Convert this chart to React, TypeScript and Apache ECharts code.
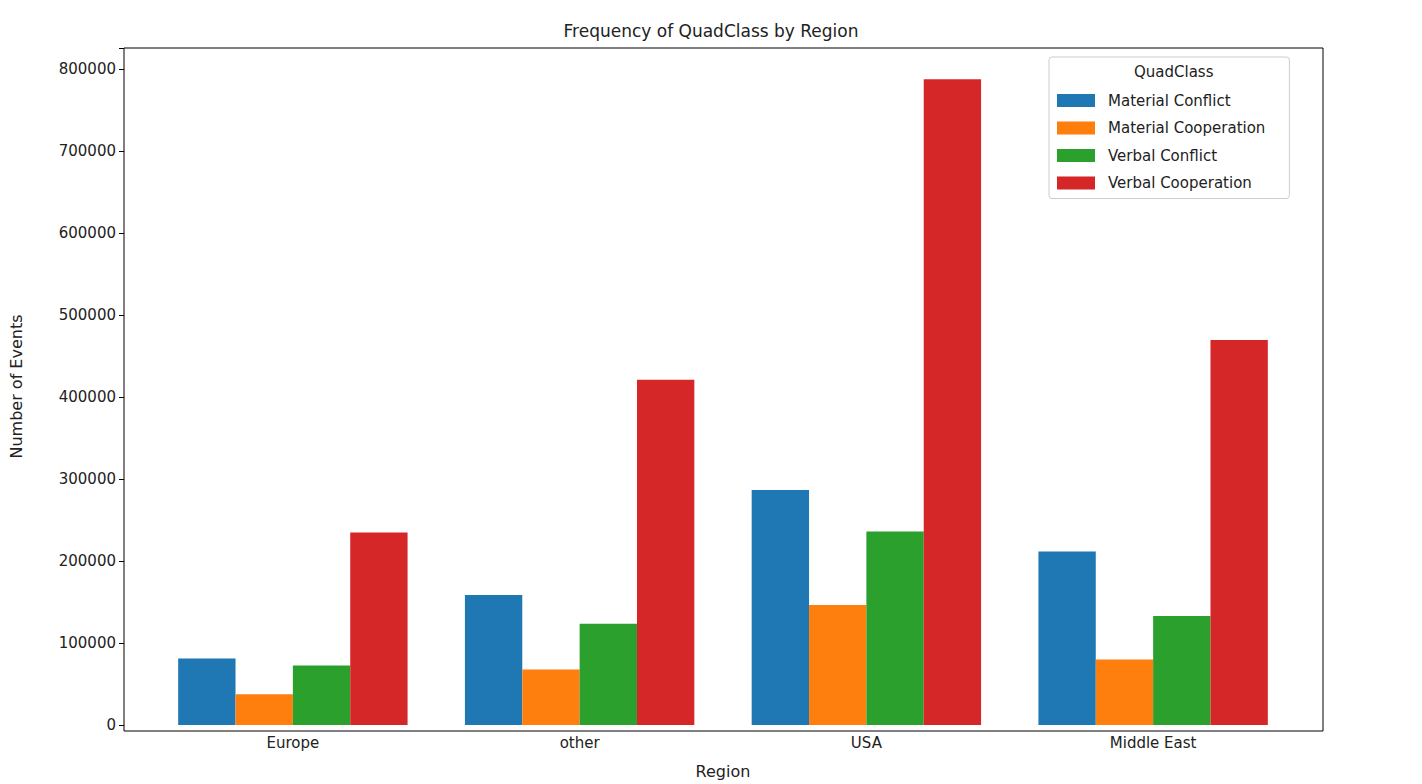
import { useEffect, useRef } from 'react'
import * as echarts from 'echarts'

const regions = ['Europe', 'other', 'USA', 'Middle East']
const quadClasses = ['Material Conflict', 'Material Cooperation', 'Verbal Conflict', 'Verbal Cooperation']
const colors = ['#1f77b4', '#ff7f0e', '#2ca02c', '#d62728']
const materialConflict = [81000, 158500, 286800, 211800]
const materialCooperation = [37500, 67800, 146400, 79900]
const verbalConflict = [72600, 123400, 236000, 133100]
const verbalCooperation = [234800, 421200, 787900, 469600]
const values = [materialConflict, materialCooperation, verbalConflict, verbalCooperation]

export default function App() {
  const ref = useRef<HTMLDivElement>(null)

  useEffect(() => {
    document.body.style.margin = '0'
    if (!ref.current) return
    const chart = echarts.init(ref.current, null, { renderer: 'svg' })
    const font = 'DejaVu Sans'
    chart.setOption({
      animation: false,
      textStyle: { fontFamily: font },
      title: {
        text: 'Frequency of QuadClass by Region',
        left: 'center',
        top: 17,
        textStyle: { fontSize: 17, fontWeight: 'normal', color: '#222', fontFamily: font },
      },
      grid: [
        { left: 149.5, right: 125.5, top: 48, bottom: 53 },
        { left: 124, right: 99, top: 48, bottom: 53, show: true, borderColor: '#000', borderWidth: 1 },
      ],
      legend: {
        orient: 'vertical',
        left: 1049,
        top: 57,
        padding: [36, 24, 8, 8],
        itemGap: 12.5,
        itemWidth: 38,
        itemHeight: 13,
        borderColor: '#ccc',
        borderWidth: 1,
        borderRadius: 3,
        icon: 'rect',
        textStyle: { fontSize: 15, color: '#222', fontFamily: font, padding: [0, 0, 0, 8] },
        data: quadClasses,
      },
      graphic: [
        {
          type: 'text',
          left: 1134,
          top: 64,
          style: { text: 'QuadClass', fontSize: 15, fill: '#222', fontFamily: font },
        },
      ],
      xAxis: [
        {
          type: 'category',
          gridIndex: 0,
          data: regions,
          name: 'Region',
          nameLocation: 'middle',
          nameGap: 38,
          nameTextStyle: { fontSize: 16, color: '#222' },
          axisLine: { show: false },
          axisTick: { alignWithLabel: true, lineStyle: { color: '#000' } },
          axisLabel: { fontSize: 15, color: '#222', margin: 10 },
          splitLine: { show: false },
        },
        { type: 'value', gridIndex: 1, show: false },
      ],
      yAxis: [
        {
          type: 'value',
          gridIndex: 0,
          min: 0,
          max: 826000,
          interval: 100000,
          offset: 25.5,
          name: 'Number of Events',
          nameLocation: 'middle',
          nameGap: 100,
          nameTextStyle: { fontSize: 16, color: '#222' },
          axisLine: { show: false },
          axisTick: { show: true, lineStyle: { color: '#000' } },
          axisLabel: {
            fontSize: 15,
            color: '#222',
            formatter: (v: number) => (v > 800000 ? '' : String(v)),
          },
          splitLine: { show: false },
        },
        { type: 'value', gridIndex: 1, show: false },
      ],
      series: quadClasses.map((name, i) => ({
        name,
        type: 'bar',
        xAxisIndex: 0,
        yAxisIndex: 0,
        data: values[i],
        barGap: '0%',
        barCategoryGap: '20%',
        itemStyle: { color: colors[i] },
      })),
    })
    return () => chart.dispose()
  }, [])

  return <div ref={ref} style={{ width: 1422, height: 784 }} />
}
